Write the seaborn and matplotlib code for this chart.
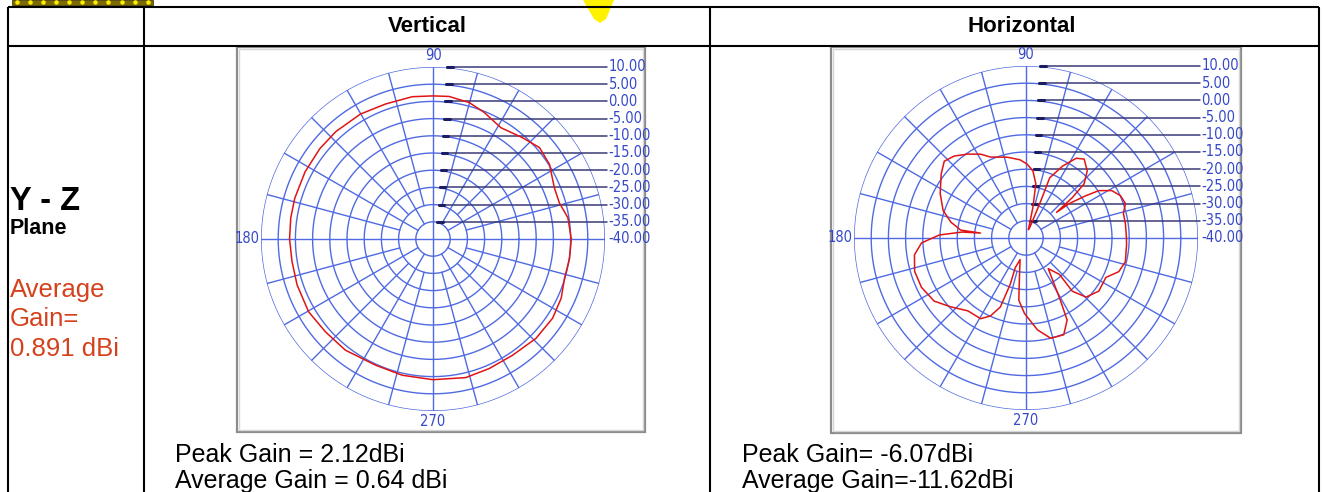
import numpy as np
import matplotlib
matplotlib.use("Agg")
import matplotlib.pyplot as plt
from matplotlib.patches import Rectangle
import seaborn as sns

# ---- data (angle in degrees, gain in dBi) ----
vert_angle = [0, 8.9, 16, 22.9, 32.6, 40.6, 48.5, 58.6, 68, 75.2, 83.6, 90,
              98.3, 109.4, 120.2, 132.1, 141.4, 152.3, 163.6, 171.6, 180,
              189, 198.6, 210.3, 220.7, 231.7, 245.5, 257.3, 270, 283.3,
              293.5, 304.4, 316, 326.5, 335.2, 343.4, 352, 360]
vert_gain = [0.2, -0.3, -1.8, -1.7, 0.2, 0.8, -0.7, -2.1, -0.3, 1.05, 1.7, 1.6,
             1.8, 1.6, 2.0, 2.1, 2.1, 2.0, 1.9, 1.8, 1.7,
             1.5, 1.7, 1.9, 1.3, 1.15, 0.3, 0.6, 0.9, 1.4,
             1.05, 0.95, 1.6, 1.7, 1.05, -0.1, 0.1, 0.2]

horz_angle = [0.6, 8.4, 14.2, 19.1, 24.1, 28.9, 33.0, 35.2, 38.5, 40.0,
              41.1, 43.0, 47.6, 53.6, 57.8, 63.1, 68.5, 68.2, 70.0, 74.0,
              77.3, 79.7, 84.1, 89.2, 94.4, 103, 113.7, 118.4, 124.8, 131.3,
              136.8, 142.9, 152.6, 161.6, 168.1, 173.1, 173.8, 174.7, 178,
              182.7, 188.6, 196.7, 205.3, 214.5, 222.6, 231.4, 240.7, 245.5,
              249.6, 251.2, 250.1, 254.7, 260.5, 263.4, 268.8, 277.1, 283.8,
              291.3, 296.6, 298.9, 306, 312.6, 311, 315.5, 323.9, 333.7,
              340.1, 346.6, 356.1, 360.6]
horz_gain = [-10.8, -10.8, -10.8, -9.4, -9.9, -11.5, -14.7, -18.6, -23.9, -28.4,
             -22.1, -16.9, -13.6, -11.5, -12.6, -16.6, -21.2, -29.2, -36.6, -37.5,
             -30.9, -24.0, -20.4, -18.5, -17.2, -15.9, -14.3, -12.3, -10.3, -8.3,
             -7.4, -9.1, -11.9, -14.6, -17.7, -20.9, -26.7, -21.3, -14.8,
             -9.6, -7.2, -6.2, -6.4, -7.6, -10.4, -12.9, -13.1, -15.1,
             -18.6, -25.8, -30.8, -33.5, -28.4, -21.8, -18.1, -13.1, -10.0,
             -9.8, -13.3, -19.3, -29.0, -25.6, -19.5, -15.5, -13.8, -14.1,
             -11.3, -10.3, -10.7, -10.8]

ring_levels = [10, 5, 0, -5, -10, -15, -20, -25, -30, -35, -40]
ring_labels = ["10.00", "5.00", "0.00", "-5.00", "-10.00", "-15.00", "-20.00",
               "-25.00", "-30.00", "-35.00", "-40.00"]
col_titles = ["Vertical", "Horizontal"]
peak_text = ["Peak Gain = 2.12dBi", "Peak Gain= -6.07dBi"]
avg_text = ["Average Gain = 0.64 dBi", "Average Gain=-11.62dBi"]

W, H = 1323, 492
GRID = "#4f6ae2"
LINE = "#3a3a78"
LABEL = "#3548c8"
RED = "#e01414"

sns.set_style("white")
plt.rcParams["font.family"] = ["Liberation Sans", "DejaVu Sans"]
plt.rcParams["text.color"] = "black"
small = dict(family=["DejaVu Sans"], fontstretch="condensed", fontsize=10.5, color=LABEL)

fig = plt.figure(figsize=(W / 100, H / 100), dpi=100)
fig.patch.set_facecolor("white")

bg = fig.add_axes([0, 0, 1, 1], zorder=0)
bg.set_xlim(0, W)
bg.set_ylim(H, 0)
bg.axis("off")

# table
for x in [8, 144, 710, 1319]:
    bg.plot([x, x], [7, H], color="black", lw=1.5, solid_capstyle="butt")
for y in [7, 46]:
    bg.plot([8, 1319], [y, y], color="black", lw=1.5, solid_capstyle="butt")

# little olive strip at the top left
bg.add_patch(Rectangle((12, 0), 141, 4.5, facecolor="#7d6b00", edgecolor="#4a3f00", lw=0.6))
bg.scatter(16.7 + 13.1 * np.arange(11), np.full(11, 2.3), s=5, color="#ffee00", zorder=3)
# yellow watermark fragment
bg.fill([583, 614, 606, 600, 594], [0, 0, 19, 23, 19], color="#fff200", lw=0)

bg.text(427, 27, col_titles[0], ha="center", va="center", fontsize=16, fontweight="bold")
bg.text(1022, 27, col_titles[1], ha="center", va="center", fontsize=16, fontweight="bold")

bg.text(10, 210, "Y - Z", fontsize=23.5, fontweight="bold", va="baseline")
bg.text(10, 234, "Plane", fontsize=15.5, fontweight="bold", va="baseline")
for txt, yb in zip(["Average", "Gain=", "0.891 dBi"], [297, 326, 356]):
    bg.text(10, yb, txt, fontsize=18.5, color="#d4411c", va="baseline")

panels = [
    dict(cx=433, cy=239, frame=(237, 47, 408, 385), ang=vert_angle, gain=vert_gain,
         tx=175),
    dict(cx=1026, cy=238, frame=(831, 47, 410, 386), ang=horz_angle, gain=horz_gain,
         tx=742),
]
R = 172

for i, p in enumerate(panels):
    fx, fy, fw, fh = p["frame"]
    bg.add_patch(Rectangle((fx, fy), fw, fh, fill=False, edgecolor="#8c8c8c", lw=1.6))
    bg.add_patch(Rectangle((fx + 2, fy + 2), fw - 4, fh - 4, fill=False, edgecolor="#d6d6d6", lw=1))
    bg.text(p["tx"], 462, peak_text[i], fontsize=18, va="baseline")
    bg.text(p["tx"], 488, avg_text[i], fontsize=18, va="baseline")

    ax = fig.add_axes([(p["cx"] - R) / W, 1 - (p["cy"] + R) / H, 2 * R / W, 2 * R / H],
                      projection="polar", zorder=2)
    ax.set_facecolor("none")
    ax.set_theta_zero_location("E")
    ax.set_ylim(-40, 10)
    ax.grid(False)
    ax.spines["polar"].set_visible(False)

    th = np.linspace(0, 2 * np.pi, 721)
    for lv in ring_levels[:-1]:
        ax.plot(th, np.full_like(th, lv), color=GRID, lw=1.0)
    for deg in range(0, 360, 15):
        r0 = -40 if deg % 90 == 0 else (-35 if deg % 30 == 0 else -30)
        ax.plot([np.radians(deg)] * 2, [r0, 10], color=GRID, lw=1.0)

    # horizontal label leaders, drawn in the polar frame
    for lv, lab in zip(ring_levels, ring_labels):
        h = lv + 40
        if lv > -40:
            x0 = 1.3 + (lv + 35) * 0.064
            xs = np.linspace(x0, 50.5, 300)
            ax.plot(np.arctan2(h, xs), np.hypot(xs, h) - 40, color=LINE, lw=1.1,
                    clip_on=False)
            xs = np.linspace(x0, x0 + 1.6, 20)
            ax.plot(np.arctan2(h, xs), np.hypot(xs, h) - 40, color="#1c1c60", lw=2.2,
                    clip_on=False)
        ax.text(np.arctan2(h, 51), np.hypot(51, h) - 40, lab, ha="left", va="center",
                clip_on=False, **small)

    ax.text(np.pi / 2, 13.3, "90", ha="center", va="center", **small)
    ax.text(3 * np.pi / 2, 13.1, "270", ha="center", va="center", **small)
    ax.text(np.pi, 14.0, "180", ha="center", va="center", **small)

    sns.lineplot(x=np.radians(p["ang"]), y=p["gain"], sort=False, estimator=None,
                 color=RED, lw=1.1, ax=ax)
    ax.set_xlabel("")
    ax.set_ylabel("")
    ax.set_xticks([])
    ax.set_yticks([])
    ax.set_ylim(-40, 10)

fig.savefig("out.png", dpi=100)
